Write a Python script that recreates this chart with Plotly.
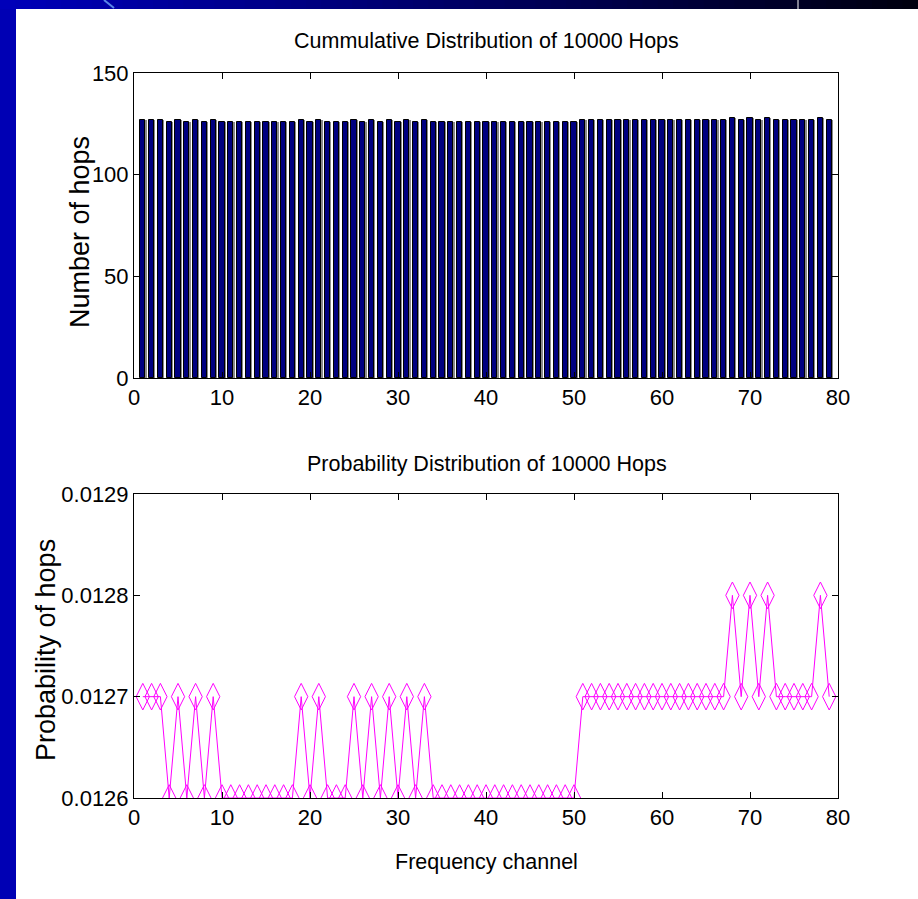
import plotly.graph_objects as go

W, H = 918, 899

# Hop counts per frequency channel (10000 hops over 79 channels)
channels = list(range(1, 80))
hop_counts = (
    [127, 127, 127, 126, 127, 126, 127, 126, 127]          # 1-9
    + [126] * 9                                            # 10-18
    + [127, 126, 127, 126, 126, 126, 127, 126, 127, 126,   # 19-28
       127, 126, 127, 126, 127]                            # 29-33
    + [126] * 17                                           # 34-50
    + [127] * 17                                           # 51-67
    + [128, 127, 128, 127, 128]                            # 68-72
    + [127] * 5                                            # 73-77
    + [128, 127]                                           # 78-79
)
total_hops = 10000
probabilities = [c / total_hops for c in hop_counts]

x_ticks = [0, 10, 20, 30, 40, 50, 60, 70, 80]
count_ticks = [0, 50, 100, 150]
prob_ticks = [0.0126, 0.0127, 0.0128, 0.0129]
prob_tick_text = ["0.0126", "0.0127", "0.0128", "0.0129"]

title_top = "Cummulative Distribution of 10000 Hops"
title_bottom = "Probability Distribution of 10000 Hops"
xlabel = "Frequency channel"
ylabel_top = "Number of hops"
ylabel_bottom = "Probability of hops"

FONT = "Liberation Sans, Arial, sans-serif"


def px_x(p):
    return p / W


def px_y(p):
    return 1 - p / H


fig = go.Figure()

# bar shadow, then the bars themselves
BAR_W = 0.58
fig.add_trace(go.Bar(
    x=channels, y=hop_counts, width=BAR_W, offset=-BAR_W / 2 + 0.15,
    marker=dict(color="#8a8a8a", line=dict(width=0)),
    xaxis="x", yaxis="y", hoverinfo="skip", showlegend=False,
))
fig.add_trace(go.Bar(
    x=channels, y=hop_counts, width=BAR_W, offset=-BAR_W / 2,
    marker=dict(color="#000080", line=dict(color="#000000", width=1)),
    xaxis="x", yaxis="y", showlegend=False,
))

fig.add_trace(go.Scatter(
    x=channels, y=probabilities, mode="lines+markers",
    line=dict(color="#ff00ff", width=1),
    marker=dict(symbol="diamond-tall-open", size=19, color="#ff00ff",
                line=dict(color="#ff00ff", width=1)),
    xaxis="x2", yaxis="y2", showlegend=False,
))

axis_common = dict(
    showgrid=False, zeroline=False, showline=True, linecolor="black",
    linewidth=1, mirror="ticks", ticks="inside", ticklen=6,
    tickcolor="black", automargin=False,
    tickfont=dict(family=FONT, size=22, color="black"),
)

fig.update_layout(
    template="none",
    width=W, height=H, autosize=False,
    margin=dict(l=0, r=0, t=0, b=0, pad=0, autoexpand=False),
    paper_bgcolor="white", plot_bgcolor="white",
    barmode="overlay", bargap=0,
    showlegend=False,
    xaxis=dict(domain=[px_x(134), px_x(838)], range=[0, 80],
               tickvals=x_ticks, anchor="y", **axis_common),
    yaxis=dict(domain=[px_y(378), px_y(73)], range=[0, 150],
               tickvals=count_ticks, anchor="x", **axis_common),
    xaxis2=dict(domain=[px_x(134), px_x(838)], range=[0, 80],
                tickvals=x_ticks, anchor="y2", **axis_common),
    yaxis2=dict(domain=[px_y(798), px_y(494)], range=[0.0126, 0.0129],
                tickvals=prob_ticks, ticktext=prob_tick_text, anchor="x2",
                **axis_common),
)

# slide-style background: blue strip on the left, gradient band on top
shapes = [dict(type="rect", xref="paper", yref="paper",
               x0=0, x1=px_x(16), y0=0, y1=1,
               fillcolor="#0000b4", line=dict(width=0), layer="above")]
n_seg = 60
for i in range(n_seg):
    t = i / (n_seg - 1)
    b = int(round(185 - t * 170))
    shapes.append(dict(type="rect", xref="paper", yref="paper",
                       x0=i / n_seg, x1=(i + 1) / n_seg + 0.001,
                       y0=px_y(9), y1=1,
                       fillcolor=f"rgb(0,0,{b})", line=dict(width=0),
                       layer="above"))
shapes.append(dict(type="line", xref="paper", yref="paper",
                   x0=px_x(798), x1=px_x(798), y0=px_y(9), y1=1,
                   line=dict(color="white", width=1), layer="above"))
shapes.append(dict(type="line", xref="paper", yref="paper",
                   x0=px_x(104), x1=px_x(114), y0=1, y1=px_y(8),
                   line=dict(color="#5a86e8", width=2), layer="above"))
fig.update_layout(shapes=shapes)


def label(text, x, y, size, angle=0):
    return dict(text=text, x=px_x(x), y=px_y(y), xref="paper", yref="paper",
                showarrow=False, textangle=angle, xanchor="center",
                yanchor="middle",
                font=dict(family=FONT, size=size, color="black"))


fig.update_layout(annotations=[
    label(title_top, 487, 41, 21.5),
    label(title_bottom, 487, 464, 21.5),
    label(xlabel, 487, 862, 21.5),
    label(ylabel_top, 80, 232, 27, -90),
    label(ylabel_bottom, 46, 650, 27, -90),
])

page_reset = (
    "document.documentElement.style.margin='0';"
    "document.documentElement.style.padding='0';"
    "document.body.style.margin='0';"
    "document.body.style.padding='0';"
    "document.body.style.overflow='hidden';"
)
fig.write_html("out.html", post_script=page_reset)
